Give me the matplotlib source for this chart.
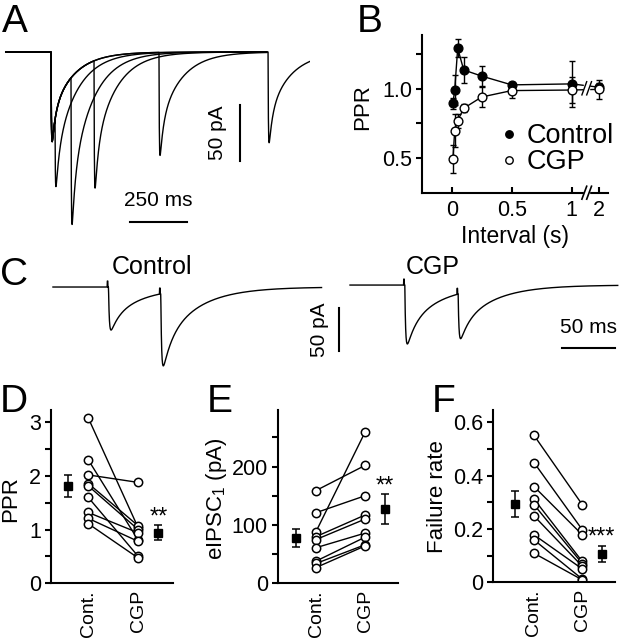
import numpy as np
import matplotlib
matplotlib.use('Agg')
import matplotlib.pyplot as plt
from matplotlib.patches import Rectangle
import matplotlib.transforms as mtrans

plt.rcParams['font.family'] = ['Liberation Sans', 'DejaVu Sans']
plt.rcParams['mathtext.default'] = 'regular'

# ---------------- data ----------------
# A: paired-pulse sweeps (time in ms, current in pA)
a_stim1 = 200.0
a_first_amp = 80.0
a_second_stim = [217.5, 288.0, 389.5, 676.0, 1157.0]
a_second_amp = [65.0, 132.0, 114.0, 92.0, 81.0]
a_sweep_end = [1152.0, 1152.0, 1152.0, 1152.0, 1342.0]
a_kinetics = (1.5, 15.0, 95.0, 0.4)      # rise, fast decay, slow decay, fast fraction

# B: PPR vs interval
b_interval = [0.01, 0.025, 0.05, 0.1, 0.25, 0.5, 1, 2]
b_ctrl = [0.895, 0.99, 1.29, 1.134, 1.09, 1.027, 1.034, 1.01]
b_ctrl_err = [0.04, 0.11, 0.065, 0.09, 0.07, 0.02, 0.165, 0.03]
b_cgp = [0.493, 0.699, 0.77, 0.859, 0.94, 0.986, 0.99, 0.995]
b_cgp_err = [0.1, 0.12, 0.05, 0.03, 0.075, 0.05, 0.09, 0.07]

# C: example traces, 50 ms interval
c_ctrl_start, c_ctrl_end = 0.0, 255.0
c_ctrl_stim = [51.9, 101.5]
c_ctrl_amp = [50.4, 85.0]
c_cgp_start, c_cgp_end = 281.8, 536.0
c_cgp_stim = [333.0, 383.6]
c_cgp_amp = [69.0, 53.0]
c_cgp_offset = 2.3
c_kinetics = (0.8, 8.0, 32.0, 0.4)

# D, E, F: paired data
groups = ['Cont.', 'CGP']
d_cont = [3.08, 2.30, 2.02, 1.86, 1.815, 1.60, 1.32, 1.21, 1.11]
d_cgp = [1.03, 0.80, 1.88, 1.07, 1.00, 0.50, 0.94, 0.78, 0.47]
d_mean = [1.815, 0.94]
d_sem = [0.205, 0.14]

e_cont = [159, 121, 88.6, 80, 75, 61, 38, 34, 27]
e_cgp = [202, 150, 259, 117, 110, 86, 79, 66, 64]
e_mean = [77, 127]
e_sem = [15.5, 25.5]

f_cont = [0.551, 0.449, 0.359, 0.312, 0.291, 0.249, 0.178, 0.159, 0.109]
f_cgp = [0.291, 0.197, 0.178, 0.078, 0.070, 0.060, 0.050, 0.012, 0.009]
f_mean = [0.293, 0.106]
f_sem = [0.049, 0.03]


def psc(t, onset, amp, kin):
    tr, tf, ts, ff = kin
    def shape(s):
        return (1 - np.exp(-s / tr)) * (ff * np.exp(-s / tf) + (1 - ff) * np.exp(-s / ts))
    s = np.clip(t - onset, 0, None)
    ref = shape(np.linspace(0, 60, 6000)).max()
    return -amp * shape(s) / ref


W, H = 619, 640
fig = plt.figure(figsize=(W / 100, H / 100), dpi=100)


def px_axes(left, top, right, bottom):
    return fig.add_axes([left / W, 1 - bottom / H, (right - left) / W, (bottom - top) / H])


def letter(x, y, s):
    fig.text(x / W, 1 - y / H, s, fontsize=28, ha='left', va='baseline')


# ---------------- A ----------------
axA = px_axes(0, 40, 310, 230)
for st2, amp2, end in zip(a_second_stim, a_second_amp, a_sweep_end):
    t = np.arange(0, end, 0.5)
    i = psc(t, a_stim1, a_first_amp, a_kinetics) + psc(t, st2, amp2, a_kinetics)
    axA.plot(t, i, color='k', lw=1.0)
axA.plot([1033.5, 1033.5], [-47.3, -97.3], color='k', lw=1.5)
axA.text(934, -72, '50 pA', rotation=90, ha='center', va='center', fontsize=15)
axA.plot([548, 798], [-151.5, -151.5], color='k', lw=1.5)
axA.text(673, -132.6, '250 ms', ha='center', va='center', fontsize=15)
axA.set_xlim(-25.1, 1342)
axA.set_ylim(-158.9, 10.7)
axA.axis('off')

# ---------------- B ----------------
def brk(x):
    return [v if v <= 1 else 1.23 for v in x]

axB = px_axes(421.7, 35, 608.3, 192.7)
u = brk(b_interval)
axB.errorbar(u, b_ctrl, yerr=b_ctrl_err, fmt='none', ecolor='k', elinewidth=1.0, capsize=2.5, capthick=1.0)
axB.errorbar(u, b_cgp, yerr=b_cgp_err, fmt='none', ecolor='k', elinewidth=1.0, capsize=2.5, capthick=1.0)
axB.plot(u, b_ctrl, '-', color='k', lw=1.0)
axB.plot(u, b_cgp, '-', color='k', lw=1.0)
axB.add_patch(Rectangle((1.105, 0.9), 0.04, 0.2, color='white', zorder=3))
axB.plot(u, b_ctrl, 'o', ls='none', mfc='k', mec='k', ms=6.3, zorder=4, label='Control')
axB.plot(u, b_cgp, 'o', ls='none', mfc='white', mec='k', ms=6.3, mew=1.0, zorder=4, label='CGP')
for xc in (1.105, 1.145):
    axB.plot([xc - 0.02, xc + 0.02], [0.955, 1.05], color='k', lw=1.0, zorder=5)
tr = mtrans.blended_transform_factory(axB.transData, axB.transAxes)
axB.add_patch(Rectangle((1.105, -0.03), 0.04, 0.06, transform=tr, color='white', zorder=5, clip_on=False))
for xc in (1.105, 1.145):
    axB.plot([xc - 0.02, xc + 0.02], [-0.041, 0.041], transform=tr, color='k', lw=1.2, zorder=6, clip_on=False)
axB.set_xlim(-0.25, 1.305)
axB.set_ylim(0.253, 1.385)
axB.set_xticks([0, 0.5, 1, 1.23], ['0', '0.5', '1', '2'])
axB.set_yticks([0.5, 1.0], ['0.5', '1.0'])
axB.set_yticks([0.75, 1.25], minor=True)
axB.tick_params(axis='x', direction='in', length=4, width=1.5, pad=5, labelsize=15.5)
axB.tick_params(axis='y', which='both', direction='out', length=4, width=1.5, pad=3, labelsize=15.5)
axB.set_xlabel('Interval (s)', fontsize=16.5, labelpad=3)
axB.set_ylabel('PPR', fontsize=16)
axB.yaxis.set_label_coords(-0.259, 0.543)
for sp in ('top', 'right'):
    axB.spines[sp].set_visible(False)
for sp in ('left', 'bottom'):
    axB.spines[sp].set_linewidth(1.5)
axB.legend(loc='center left', bbox_to_anchor=(0.429, 0.274), frameon=False, fontsize=19.5,
           handlelength=0.5, handletextpad=0.4, labelspacing=0.0, borderpad=0, borderaxespad=0,
           markerscale=0.85)

# ---------------- C ----------------
axC = px_axes(40, 255, 619, 380)
t = np.arange(c_ctrl_start, c_ctrl_end, 0.2)
i = sum(psc(t, s + 0.8, a, c_kinetics) for s, a in zip(c_ctrl_stim, c_ctrl_amp))
for s in c_ctrl_stim:
    i = i + np.where(np.abs(t - s) < 0.3, 7.0, 0.0)
axC.plot(t, i, color='k', lw=1.0)
t = np.arange(c_cgp_start, c_cgp_end, 0.2)
i = c_cgp_offset + sum(psc(t, s + 0.8, a, c_kinetics) for s, a in zip(c_cgp_stim, c_cgp_amp))
for s in c_cgp_stim:
    i = i + np.where(np.abs(t - s) < 0.3, 7.0, 0.0)
axC.plot(t, i, color='k', lw=1.0)
axC.text(94, 23.4, 'Control', ha='center', va='center', fontsize=18)
axC.text(360.5, 23.4, 'CGP', ha='center', va='center', fontsize=18)
axC.plot([271.6, 271.6], [-24.9, -75.0], color='k', lw=1.5)
axC.text(253, -50.4, '50 pA', rotation=90, ha='center', va='center', fontsize=15)
axC.plot([483.2, 533.2], [-71.8, -71.8], color='k', lw=1.5)
axC.text(508, -47.4, '50 ms', ha='center', va='center', fontsize=15)
axC.set_xlim(-12.3, 537)
axC.set_ylim(-108.9, 37.5)
axC.axis('off')


# ---------------- D, E, F ----------------
def paired(ax, cont, cgp, mean, sem, stars, ylim, major, labels, minor, ylabel, xlim, lab_xy):
    for a, b in zip(cont, cgp):
        ax.plot([1, 2], [a, b], '-', color='k', lw=1.0)
    ax.plot([1] * len(cont), cont, 'o', ls='none', mfc='white', mec='k', ms=6.0, mew=1.1)
    ax.plot([2] * len(cgp), cgp, 'o', ls='none', mfc='white', mec='k', ms=6.0, mew=1.1)
    ax.errorbar([0.6, 2.4], mean, yerr=sem, fmt='s', color='k', ms=5.5,
                elinewidth=1.1, capsize=3, capthick=1.1)
    ax.annotate(stars, (2.4, mean[1] + sem[1]), xytext=(0, 1.5), textcoords='offset points',
                ha='center', va='baseline', fontsize=17)
    ax.set_xlim(*xlim)
    ax.set_ylim(*ylim)
    ax.set_yticks(major, labels)
    ax.set_yticks(minor, minor=True)
    ax.set_xticks([1, 2], groups, rotation=90)
    ax.tick_params(axis='y', which='both', direction='out', length=4, width=1.5, pad=3, labelsize=15.5)
    ax.tick_params(axis='x', length=0, pad=5, labelsize=14)
    ax.set_ylabel(ylabel, fontsize=16)
    ax.yaxis.set_label_coords(*lab_xy)
    for sp in ('top', 'right'):
        ax.spines[sp].set_visible(False)
    for sp in ('left', 'bottom'):
        ax.spines[sp].set_linewidth(1.5)


axD = px_axes(50.7, 410, 172.7, 583.3)
paired(axD, d_cont, d_cgp, d_mean, d_sem, '**', (0, 3.23), [0, 1, 2, 3], ['0', '1', '2', '3'],
       [0.5, 1.5, 2.5], 'PPR', (0.248, 2.688), (-0.243, 0.486))

axE = px_axes(277.7, 410, 398, 583.3)
paired(axE, e_cont, e_cgp, e_mean, e_sem, '**', (0, 297), [0, 100, 200], ['0', '100', '200'],
       [50, 150, 250], 'eIPSC$_1$ (pA)', (0.218, 2.673), (-0.405, 0.49))

axF = px_axes(492.7, 410, 615, 582.3)
paired(axF, f_cont, f_cgp, f_mean, f_sem, '***', (0, 0.646), [0, 0.2, 0.4, 0.6],
       ['0', '0.2', '0.4', '0.6'], [0.1, 0.3, 0.5], 'Failure rate', (0.145, 2.677), (-0.365, 0.495))

letter(2, 32, 'A')
letter(357, 32, 'B')
letter(0, 285, 'C')
letter(0, 412, 'D')
letter(207, 412, 'E')
letter(432, 412, 'F')

fig.savefig('out.png', dpi=100)
